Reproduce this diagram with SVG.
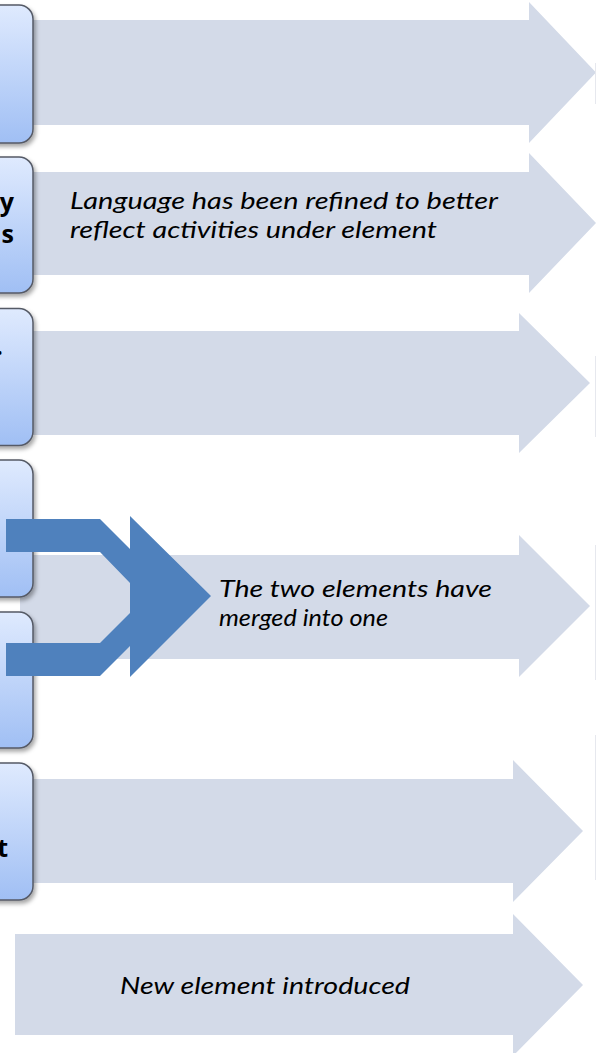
<svg xmlns="http://www.w3.org/2000/svg" width="596" height="1053" viewBox="0 0 596 1053">
  <defs>
    <linearGradient id="boxGrad" x1="0" y1="0" x2="0" y2="1">
      <stop offset="0" stop-color="#dfeafe"/>
      <stop offset="1" stop-color="#a0bff4"/>
    </linearGradient>
    <filter id="shadow" x="-20%" y="-10%" width="150%" height="130%">
      <feDropShadow dx="2" dy="3" stdDeviation="2" flood-color="#000" flood-opacity="0.35"/>
    </filter>
  </defs>
  <style>
    .garrow { fill: #d3dae8; }
    .box { fill: url(#boxGrad); stroke: #555a66; stroke-width: 1.5; filter: url(#shadow); }
    .btxt { font-family: "Open Sans", "Liberation Sans", sans-serif; font-weight: bold; font-size: 25px; fill: #000; text-anchor: end; }
    .itxt { font-family: Lato, "Open Sans", "Liberation Sans", sans-serif; font-style: italic; font-size: 24px; fill: #000; }
    .merge { fill: #4f81bd; }
    .edge { stroke: #e6e8ee; stroke-width: 1; fill: none; }
  </style>
  <rect width="596" height="1053" fill="#fff"/>

  <g id="connectors">
    <polygon class="garrow" points="20,20 529,20 529,2 596,72.5 529,143 529,125 20,125"/>
    <polygon class="garrow" points="20,172 529,172 529,153 596,223 529,293 529,275 20,275"/>
    <polygon class="garrow" points="20,331 519,331 519,313 590,383 519,453 519,435 20,435"/>
    <polygon class="garrow" points="20,555 519,555 519,535 590,606 519,677 519,659 20,659"/>
    <polygon class="garrow" points="20,779 513,779 513,760 583,831 513,902 513,883 20,883"/>
    <polygon class="garrow" points="15,934 513,934 513,914 583,985 513,1056 513,1035 15,1035"/>
    <line class="edge" x1="595.5" y1="63" x2="595.5" y2="104"/>
    <line class="edge" x1="595.5" y1="356" x2="595.5" y2="437"/>
    <line class="edge" x1="595.5" y1="545" x2="595.5" y2="680"/>
    <line class="edge" x1="595.5" y1="735" x2="595.5" y2="880"/>
  </g>

  <g id="node1">
    <rect class="box" x="-20" y="5" width="53" height="138" rx="14"/>
  </g>
  <g id="node2">
    <rect class="box" x="-20" y="157" width="53" height="136" rx="14"/>
    <text class="btxt" x="14" y="211">y</text>
    <text class="btxt" x="14" y="243">s</text>
  </g>
  <g id="node3">
    <rect class="box" x="-20" y="308.5" width="53" height="137" rx="14"/>
    <text class="btxt" x="3" y="355">.</text>
  </g>
  <g id="node4">
    <rect class="box" x="-20" y="460" width="53" height="137" rx="14"/>
  </g>
  <g id="node5">
    <rect class="box" x="-20" y="612" width="53" height="136" rx="14"/>
  </g>
  <g id="node6">
    <rect class="box" x="-20" y="763" width="53" height="137" rx="14"/>
    <text class="btxt" x="8" y="857">t</text>
  </g>

  <g id="merge-arrow">
    <polygon class="merge" points="6,519 100,519 130,549 130,516 211,596 130,677 130,646 100,676 6,676 6,643 100,643 130,613 130,583 100,552 6,552"/>
  </g>

  <g id="labels">
    <text class="itxt" x="70" y="209" textLength="428" lengthAdjust="spacingAndGlyphs">Language has been refined to better</text>
    <text class="itxt" x="70" y="238" textLength="367" lengthAdjust="spacingAndGlyphs">reflect activities under element</text>
    <text class="itxt" x="219" y="597" textLength="273" lengthAdjust="spacingAndGlyphs">The two elements have</text>
    <text class="itxt" x="219" y="626" textLength="169" lengthAdjust="spacingAndGlyphs">merged into one</text>
    <text class="itxt" x="120" y="994" textLength="290" lengthAdjust="spacingAndGlyphs">New element introduced</text>
  </g>
</svg>
